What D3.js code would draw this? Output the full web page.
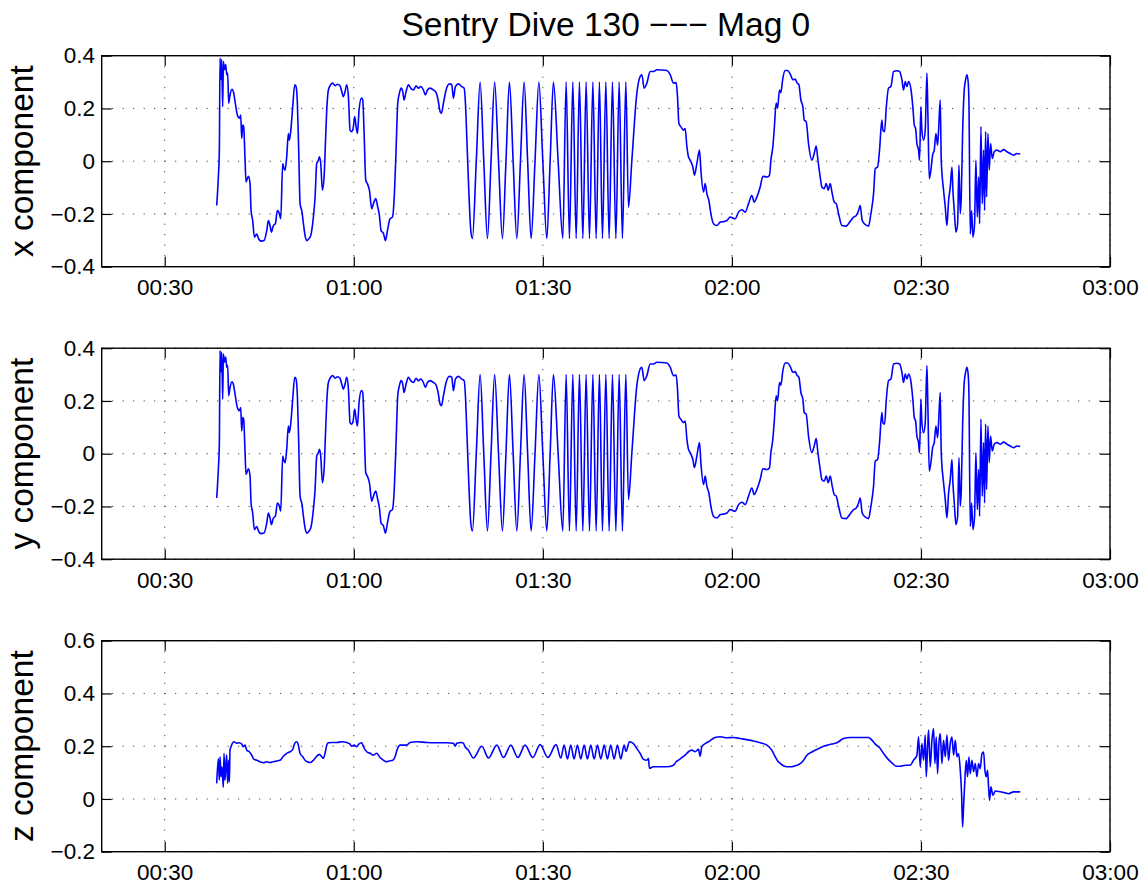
<!DOCTYPE html>
<html lang="en">
<head>
<meta charset="UTF-8" />
<title>Sentry Dive 130 --- Mag 0</title>
<script src="https://cdn.jsdelivr.net/npm/d3@7"></script>
<style>
  body { margin: 0; background: #fff; }
  text { font-family: "Liberation Sans", Arial, Helvetica, sans-serif; fill: #000; }
</style>
</head>
<body>
<svg id="chart" width="1148" height="888"></svg>
<script>
// time is in minutes after 00:00
const xTimes = [38.25,38.35,38.51,38.67,38.78,38.88,39.04,39.20,39.31,39.47,39.68,39.84,39.99,40.15,40.36,40.68,40.89,41.16,41.53,41.85,42.06,42.22,42.38,42.53,42.75,42.90,43.28,43.54,43.70,43.96,44.23,44.60,44.92,45.29,45.76,46.19,46.45,46.71,46.93,47.24,47.56,47.88,48.20,48.41,48.72,48.94,49.10,49.36,49.62,49.78,49.99,50.31,50.63,50.84,51.05,51.26,51.48,51.79,52.01,52.32,52.53,52.85,53.17,53.59,53.86,54.12,54.39,54.55,54.76,55.02,55.29,55.50,55.71,55.97,56.34,56.66,57.03,57.40,57.82,58.09,58.35,58.62,58.88,59.15,59.41,59.68,59.94,60.15,60.37,60.58,60.84,61.21,61.42,61.64,61.90,62.16,62.48,62.85,63.12,63.49,63.75,64.07,64.33,64.70,65.02,65.34,65.76,66.13,66.45,66.71,66.98,67.24,67.51,67.77,67.98,68.30,68.67,69.04,69.47,69.89,70.26,70.63,71.05,71.37,71.69,72.11,72.64,73.06,73.38,73.70,73.91,74.23,74.65,75.18,75.55,75.81,76.13,76.61,77.14,77.51,77.72,77.93,78.25,78.57,78.83,79.44,80.05,80.63,81.21,81.78,82.35,82.97,83.59,84.15,84.70,85.29,85.87,86.45,87.03,87.59,88.14,88.76,89.37,90.00,90.63,91.16,91.68,92.43,93.17,93.70,94.22,94.76,95.29,95.81,96.35,96.87,97.40,97.94,98.46,98.98,99.46,100.00,100.52,101.05,101.59,102.11,102.63,103.17,103.59,104.13,104.92,105.44,105.71,106.08,106.51,107.03,107.56,108.10,109.68,110.21,110.73,111.16,111.37,111.59,111.90,112.32,112.59,112.86,113.11,113.38,113.81,114.06,114.44,114.86,115.08,115.49,115.76,116.03,116.35,116.67,117.08,117.62,118.14,118.67,119.21,119.73,120.52,121.05,121.58,122.11,122.64,123.17,123.54,123.96,124.49,124.92,125.55,125.97,126.19,126.50,126.71,127.03,127.24,127.56,127.77,128.09,128.46,128.83,129.25,129.68,130.05,130.31,130.63,130.95,131.26,131.48,131.79,132.16,132.69,133.06,133.38,133.65,134.02,134.28,134.65,134.97,135.29,135.60,135.92,136.24,136.56,136.93,137.46,138.14,138.51,138.88,139.31,139.73,140.10,140.36,140.68,141.16,141.69,142.06,142.48,142.75,143.12,143.43,143.80,143.96,144.23,144.49,144.86,145.23,145.66,146.19,146.61,146.98,147.24,147.51,147.77,148.04,148.41,148.73,148.94,149.15,149.36,149.62,149.78,149.99,150.15,150.42,150.68,150.95,151.11,151.32,151.58,151.85,152.11,152.38,152.64,152.80,153.06,153.22,153.59,153.86,154.12,154.39,154.65,154.92,155.07,155.29,155.55,155.82,156.03,156.24,156.40,156.61,156.87,157.09,157.30,157.51,157.61,157.83,158.04,158.25,158.51,158.72,158.94,159.15,159.31,159.52,159.73,159.94,160.10,160.26,160.42,160.63,160.84,161.05,161.32,161.63,162.06,162.59,163.12,163.65,164.17,164.70,165.23,165.76];
const xValues = [-0.168,-0.130,-0.060,0.042,0.391,0.309,0.385,0.207,0.378,0.347,0.366,0.328,0.334,0.220,0.251,0.273,0.264,0.226,0.175,0.163,0.175,0.086,0.137,0.131,0.004,-0.079,-0.057,-0.085,-0.187,-0.225,-0.288,-0.276,-0.295,-0.303,-0.301,-0.263,-0.225,-0.244,-0.269,-0.244,-0.237,-0.187,-0.199,-0.218,-0.009,-0.028,-0.034,0.017,0.105,0.080,0.112,0.207,0.290,0.283,0.220,0.042,-0.161,-0.193,-0.237,-0.288,-0.301,-0.295,-0.282,-0.212,-0.136,-0.009,0.004,0.017,-0.009,-0.110,-0.060,0.067,0.194,0.270,0.290,0.296,0.286,0.292,0.286,0.264,0.245,0.264,0.290,0.245,0.118,0.112,0.131,0.169,0.131,0.105,0.194,0.239,0.232,0.105,-0.072,-0.085,-0.110,-0.180,-0.161,-0.142,-0.168,-0.206,-0.263,-0.273,-0.301,-0.263,-0.218,-0.212,-0.123,0.042,0.220,0.258,0.277,0.264,0.232,0.264,0.290,0.277,0.270,0.286,0.277,0.283,0.270,0.251,0.270,0.277,0.270,0.260,0.232,0.188,0.182,0.220,0.270,0.293,0.290,0.239,0.283,0.293,0.283,0.277,0.220,0.093,-0.110,-0.263,-0.293,0.000,0.300,0.000,-0.293,0.000,0.300,0.000,-0.293,0.000,0.300,0.000,-0.293,0.000,0.300,0.000,-0.293,0.000,0.300,0.000,-0.293,0.000,0.300,0.000,-0.293,0.300,-0.293,0.300,-0.293,0.300,-0.293,0.300,-0.293,0.300,-0.293,0.300,-0.293,0.300,-0.293,0.300,-0.293,0.300,-0.293,0.300,-0.174,0.004,0.258,0.321,0.328,0.277,0.296,0.340,0.340,0.347,0.344,0.328,0.296,0.298,0.245,0.143,0.131,0.118,0.124,0.055,0.017,0.004,-0.022,-0.053,-0.009,0.042,-0.034,-0.117,-0.085,-0.123,-0.149,-0.200,-0.237,-0.244,-0.231,-0.229,-0.225,-0.212,-0.218,-0.193,-0.184,-0.193,-0.161,-0.130,-0.155,-0.136,-0.098,-0.057,-0.060,-0.053,0.004,0.055,0.118,0.220,0.201,0.270,0.260,0.315,0.344,0.344,0.331,0.309,0.311,0.298,0.290,0.232,0.207,0.156,0.150,0.067,0.004,0.029,0.057,0.004,-0.060,-0.098,-0.104,-0.085,-0.110,-0.085,-0.123,-0.155,-0.161,-0.199,-0.244,-0.246,-0.237,-0.225,-0.212,-0.206,-0.187,-0.168,-0.225,-0.240,-0.246,-0.199,-0.123,-0.028,-0.022,0.042,0.156,0.118,0.112,0.201,0.277,0.283,0.340,0.343,0.340,0.309,0.270,0.302,0.283,0.302,0.273,0.201,0.137,0.124,0.067,0.042,0.004,0.207,0.118,0.080,0.118,0.334,0.169,-0.066,-0.034,0.023,0.042,0.105,0.061,0.118,0.232,0.004,-0.110,-0.174,-0.244,-0.149,-0.098,-0.022,-0.110,-0.187,-0.269,-0.237,-0.015,-0.199,-0.136,0.105,0.270,0.309,0.328,0.296,0.232,-0.276,-0.187,-0.288,-0.237,0.004,-0.212,-0.060,-0.237,0.131,-0.161,0.042,-0.187,0.112,-0.136,0.105,-0.034,0.067,0.010,0.036,0.042,0.036,0.044,0.036,0.029,0.023,0.029,0.027];
// the y component reads the same as the x component in the picture
const yTimes = xTimes;
const yValues = xValues;

const zTimes = [38.25,38.51,38.67,38.78,38.93,39.09,39.30,39.41,39.57,39.73,39.83,39.99,40.15,40.26,40.36,40.52,40.73,41.00,41.42,41.84,42.21,42.48,42.75,43.01,43.43,43.80,44.17,44.60,45.12,45.65,46.18,46.71,47.24,47.77,48.30,48.83,49.36,49.89,50.31,50.63,50.94,51.21,51.47,51.90,52.27,52.64,53.06,53.48,53.85,54.12,54.54,54.91,55.18,55.44,55.71,55.97,56.50,57.29,58.09,58.88,59.41,59.67,60.05,60.47,60.79,61.26,61.53,62.06,62.58,63.11,63.64,64.17,64.70,65.12,65.65,66.18,66.55,66.82,67.08,67.35,67.88,68.41,68.93,69.99,71.58,73.17,74.75,75.81,76.08,76.34,77.14,77.40,77.66,78.19,78.98,80.32,81.37,82.70,83.75,84.92,86.03,87.19,88.41,89.57,90.79,92.11,92.85,93.38,93.91,94.43,94.96,95.49,96.02,96.55,97.08,97.61,98.14,98.67,99.20,99.73,100.25,100.78,101.31,101.84,102.37,102.90,103.20,103.75,104.38,104.91,105.44,105.97,106.50,106.76,106.92,107.56,108.61,109.67,110.73,111.15,111.52,112.05,112.58,113.11,113.64,114.17,114.70,114.96,115.23,115.76,116.29,116.81,117.34,118.14,119.20,120.26,121.31,122.37,123.43,124.49,125.55,126.34,126.87,127.24,127.66,128.19,128.72,129.51,130.31,130.84,131.37,131.90,132.69,133.75,134.54,135.87,136.66,137.72,138.78,140.89,141.69,142.22,142.75,143.54,144.07,144.70,145.39,146.08,146.71,147.51,148.30,148.83,149.36,149.62,149.89,150.15,150.42,150.68,150.84,151.05,151.21,151.47,151.74,152.00,152.22,152.43,152.64,152.85,153.06,153.33,153.59,153.86,154.12,154.39,154.65,154.92,155.18,155.45,155.71,155.97,156.24,156.45,156.61,156.76,156.92,157.19,157.40,157.61,157.82,158.09,158.35,158.62,158.88,159.15,159.41,159.68,159.94,160.15,160.36,160.57,160.73,160.89,161.10,161.42,161.79,162.59,163.38,163.91,164.70,165.76];
const zValues = [0.059,0.153,0.071,0.160,0.084,0.122,0.044,0.173,0.071,0.135,0.166,0.059,0.147,0.065,0.185,0.198,0.211,0.217,0.211,0.213,0.208,0.198,0.204,0.185,0.179,0.166,0.150,0.147,0.141,0.137,0.141,0.138,0.141,0.144,0.147,0.162,0.173,0.179,0.188,0.211,0.217,0.204,0.173,0.160,0.147,0.141,0.138,0.144,0.154,0.162,0.169,0.160,0.154,0.173,0.204,0.213,0.214,0.214,0.217,0.214,0.208,0.200,0.204,0.198,0.208,0.213,0.198,0.179,0.173,0.166,0.173,0.157,0.147,0.141,0.144,0.147,0.160,0.183,0.198,0.204,0.204,0.204,0.214,0.217,0.214,0.213,0.213,0.211,0.200,0.211,0.214,0.211,0.198,0.185,0.155,0.200,0.155,0.204,0.157,0.204,0.157,0.204,0.157,0.206,0.157,0.206,0.155,0.204,0.152,0.204,0.152,0.204,0.152,0.204,0.152,0.204,0.152,0.204,0.152,0.204,0.152,0.204,0.152,0.204,0.152,0.204,0.180,0.217,0.210,0.191,0.173,0.150,0.147,0.153,0.116,0.122,0.122,0.122,0.128,0.141,0.147,0.157,0.166,0.179,0.185,0.179,0.188,0.162,0.198,0.210,0.217,0.226,0.233,0.236,0.232,0.233,0.229,0.225,0.220,0.213,0.204,0.185,0.160,0.145,0.135,0.126,0.122,0.122,0.128,0.134,0.147,0.166,0.178,0.191,0.200,0.208,0.213,0.229,0.233,0.233,0.233,0.223,0.208,0.191,0.172,0.153,0.137,0.124,0.124,0.128,0.128,0.147,0.166,0.235,0.122,0.210,0.147,0.242,0.084,0.197,0.261,0.122,0.222,0.267,0.134,0.235,0.096,0.210,0.248,0.134,0.222,0.160,0.242,0.146,0.210,0.235,0.166,0.222,0.160,0.172,0.109,0.020,-0.106,-0.030,0.046,0.147,0.084,0.159,0.096,0.147,0.103,0.134,0.084,0.134,0.115,0.172,0.178,0.109,0.084,0.109,0.046,-0.005,0.046,0.014,0.030,0.027,0.023,0.020,0.027,0.027];

const timeTicks = [30, 60, 90, 120, 150, 180];
const timeRange = [20, 180];
const xyTicks = [-0.4, -0.2, 0, 0.2, 0.4];
const zTicks = [-0.2, 0, 0.2, 0.4, 0.6];
const labels = ["x component", "y component", "z component"];
const title = "Sentry Dive 130 \u2212\u2212\u2212 Mag 0";

const svg = d3.select("#chart");
const left = 101.7, right = 1110;
const tops = [55.7, 348.2, 640.7];
const ph = 211;
const tickLen = 10;

const toDate = (m) => new Date(Date.UTC(2000, 0, 1) + m * 60000);
const x = d3.scaleUtc().domain(timeRange.map(toDate)).range([left, right]);
const fmtY = (d) => (d === 0 ? "0" : d3.format(".1f")(d));

const panels = [
  { label: labels[0], times: xTimes, values: xValues, ticks: xyTicks },
  { label: labels[1], times: yTimes, values: yValues, ticks: xyTicks },
  { label: labels[2], times: zTimes, values: zValues, ticks: zTicks },
];

panels.forEach((p, i) => {
  const top = tops[i];
  const y = d3.scaleLinear().domain([p.ticks[0], p.ticks[p.ticks.length - 1]]).range([top + ph, top]);
  const g = svg.append("g");

  // dotted grid
  g.append("g").selectAll("line").data(timeTicks).join("line")
    .attr("x1", (d) => x(toDate(d))).attr("x2", (d) => x(toDate(d)))
    .attr("y1", top).attr("y2", top + ph)
    .attr("stroke", "#222").attr("stroke-width", 1).attr("stroke-dasharray", "1,9.5");
  g.append("g").selectAll("line").data(p.ticks).join("line")
    .attr("x1", left).attr("x2", right)
    .attr("y1", (d) => y(d)).attr("y2", (d) => y(d))
    .attr("stroke", "#222").attr("stroke-width", 1).attr("stroke-dasharray", "1,9.5");

  // data
  const pts = p.times.map((t, k) => [t, p.values[k]]);
  const line = d3.line()
    .x((d) => x(toDate(d[0])))
    .y((d) => y(d[1]))
    .curve(d3.curveMonotoneX);
  g.append("path").datum(pts)
    .attr("d", line)
    .attr("fill", "none")
    .attr("stroke", "#0000ff")
    .attr("stroke-width", 1.6)
    .attr("stroke-linejoin", "round");

  // axes, ticks pointing inward on all four sides
  const xb = d3.axisBottom(x).tickValues(timeTicks.map(toDate))
    .tickFormat(d3.utcFormat("%H:%M")).tickSizeInner(-tickLen).tickSizeOuter(0).tickPadding(12.5);
  const xt = d3.axisTop(x).tickValues(timeTicks.map(toDate))
    .tickFormat("").tickSizeInner(-tickLen).tickSizeOuter(0);
  const yl = d3.axisLeft(y).tickValues(p.ticks).tickFormat(fmtY)
    .tickSizeInner(-tickLen).tickSizeOuter(0).tickPadding(6.7);
  const yr = d3.axisRight(y).tickValues(p.ticks).tickFormat("")
    .tickSizeInner(-tickLen).tickSizeOuter(0);

  [
    [xb, `translate(0,${top + ph})`],
    [xt, `translate(0,${top})`],
    [yl, `translate(${left},0)`],
    [yr, `translate(${right},0)`],
  ].forEach(([ax, tr]) => {
    const a = g.append("g").attr("transform", tr).call(ax);
    a.select(".domain").remove();
    a.selectAll(".tick line").attr("stroke", "#000").attr("stroke-width", 1.2);
    a.selectAll("text").style("font-size", "22.5px").attr("fill", "#000");
  });

  g.append("rect")
    .attr("x", left).attr("y", top).attr("width", right - left).attr("height", ph)
    .attr("fill", "none").attr("stroke", "#000").attr("stroke-width", 1.4);

  g.append("text")
    .attr("transform", `translate(33,${top + ph / 2}) rotate(-90)`)
    .attr("text-anchor", "middle")
    .style("font-size", "33.5px")
    .text(p.label);
});

svg.append("text")
  .attr("x", (left + right) / 2).attr("y", 36)
  .attr("text-anchor", "middle")
  .style("font-size", "33.5px")
  .text(title);
</script>
</body>
</html>
